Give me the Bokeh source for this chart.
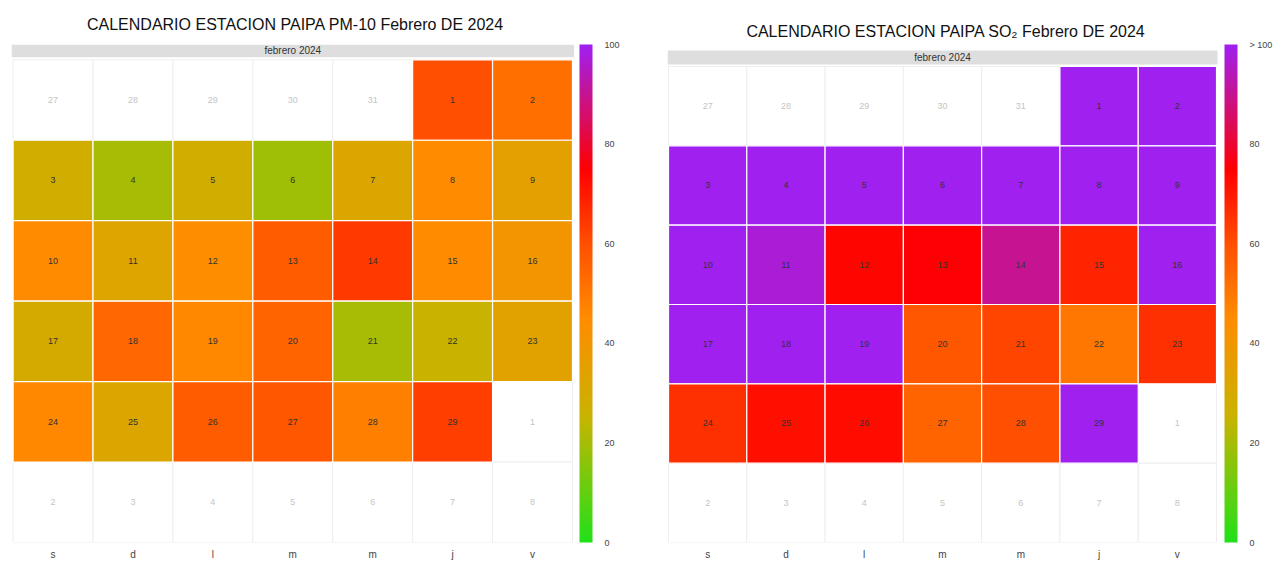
import numpy as np
import pandas as pd
from bokeh.plotting import figure
from bokeh.layouts import row
from bokeh.models import (ColumnDataSource, LinearColorMapper, ColorBar,
                          FixedTicker, Range1d)
from bokeh.embed import file_html
from bokeh.resources import INLINE
from bokeh.core.properties import value

# ---------------- data ----------------
weekday_labels = ["s", "d", "l", "m", "m", "j", "v"]
strip_label = "febrero 2024"
title_pm10 = "CALENDARIO ESTACION PAIPA PM-10 Febrero DE 2024"
title_so2 = "CALENDARIO ESTACION PAIPA SO\u2082 Febrero DE 2024"

# daily values, 1..29 Feb 2024
pm10 = [60, 52, 28, 20, 28, 19, 32, 45, 35,
        45, 33, 44, 57, 64, 45, 40,
        30, 54, 46, 55, 20, 26, 34,
        46, 32, 57, 58, 48, 63]
so2 = [118, 112, 121, 115, 119, 113, 110, 116, 108,
       112, 97, 74, 75, 90, 68, 104,
       117, 111, 114, 58, 62, 50, 66,
       66, 72, 73, 55, 60, 109]

cbar_ticks = [0, 20, 40, 60, 80, 100]
pm10_tick_labels = ["0", "20", "40", "60", "80", "100"]
so2_tick_labels = ["0", "20", "40", "60", "80", "> 100"]

# ---------------- style ----------------
FONT = "Liberation Sans"
stop_pos = [0, 25, 45, 60, 75, 100]
stop_col = ["#22E01A", "#C8B400", "#FF8C00", "#FF4F00", "#FF0000", "#A020F0"]


def build_palette(n=256):
    rgb = np.array([[int(c[i:i + 2], 16) for i in (1, 3, 5)] for c in stop_col], float)
    xs = np.linspace(0, 100, n)
    out = []
    for v in xs:
        r = np.interp(v, stop_pos, rgb[:, 0])
        g = np.interp(v, stop_pos, rgb[:, 1])
        b = np.interp(v, stop_pos, rgb[:, 2])
        out.append("#%02x%02x%02x" % (int(round(r)), int(round(g)), int(round(b))))
    return out


PALETTE = build_palette()


def make_panel(values, title, tick_labels, width, left, right,
               xr, yr, strip_lr, strip_bt, title_standoff):
    start = pd.Timestamp("2024-01-27")
    dates = pd.date_range(start, periods=42)
    xs, ys, days, vals = [], [], [], []
    oxs, oys, odays = [], [], []
    for i, d in enumerate(dates):
        cx = i % 7 + 0.5
        cy = 6 - i // 7 - 0.5
        if d.month == 2:
            xs.append(cx); ys.append(cy); days.append(str(d.day))
            vals.append(values[d.day - 1])
        else:
            oxs.append(cx); oys.append(cy); odays.append(str(d.day))

    mapper = LinearColorMapper(palette=PALETTE, low=0, high=100,
                               high_color=PALETTE[-1], low_color=PALETTE[0])

    p = figure(width=width, height=562,
               x_range=Range1d(*xr), y_range=Range1d(*yr),
               output_backend="svg", toolbar_location=None,
               min_border_top=44, min_border_left=left,
               min_border_right=right, min_border_bottom=20)
    p.title.text = title
    p.title.align = "center"
    p.title.text_font = FONT
    p.title.text_font_size = "16px"
    p.title.text_font_style = "normal"
    p.title.text_color = "#111111"
    p.title.standoff = title_standoff
    p.outline_line_color = None
    p.grid.visible = False
    p.yaxis.visible = False
    p.background_fill_color = "white"

    # strip
    p.quad(left=strip_lr[0], right=strip_lr[1], bottom=strip_bt[0], top=strip_bt[1],
           fill_color="#dedede", line_color=None)
    p.text(x=[3.5], y=[(strip_bt[0] + strip_bt[1]) / 2], text=[strip_label],
           text_align="center", text_baseline="middle", text_font=value(FONT),
           text_font_size="10px", text_color="#333333")

    # out-of-month cells
    osrc = ColumnDataSource(dict(x=oxs, y=oys, d=odays))
    p.rect("x", "y", width=1, height=1, source=osrc, fill_color="white",
           line_color="#eeeeee", line_width=1)
    p.text("x", "y", text="d", source=osrc, text_align="center",
           text_baseline="middle", text_font=value(FONT),
           text_font_size="9px", text_color="#c4c4c4")

    # in-month cells
    src = ColumnDataSource(dict(x=xs, y=ys, d=days, v=vals))
    p.rect("x", "y", width=1, height=1, source=src,
           fill_color={"field": "v", "transform": mapper},
           line_color="white", line_width=1.2)
    p.text("x", "y", text="d", source=src, text_align="center",
           text_baseline="middle", text_font=value(FONT),
           text_font_size="9px", text_color="#333333")

    # weekday axis
    p.xaxis.ticker = FixedTicker(ticks=[k + 0.5 for k in range(7)])
    p.xaxis.major_label_overrides = {k + 0.5: lab for k, lab in enumerate(weekday_labels)}
    p.xaxis.axis_line_color = None
    p.xaxis.major_tick_line_color = None
    p.xaxis.minor_tick_line_color = None
    p.xaxis.major_tick_out = 0
    p.xaxis.major_label_standoff = 6
    p.xaxis.major_label_text_font = FONT
    p.xaxis.major_label_text_font_size = "10px"
    p.xaxis.major_label_text_color = "#444444"

    cb = ColorBar(color_mapper=mapper, ticker=FixedTicker(ticks=cbar_ticks),
                  major_label_overrides={t: l for t, l in zip(cbar_ticks, tick_labels)},
                  width=13, padding=0, margin=0, label_standoff=12,
                  major_tick_line_color=None, minor_tick_line_color=None,
                  bar_line_color=None, border_line_color=None,
                  background_fill_alpha=0,
                  major_label_text_font=FONT, major_label_text_font_size="9px",
                  major_label_text_color="#444444")
    p.add_layout(cb, "right")
    return p


p1 = make_panel(pm10, title_pm10, pm10_tick_labels, 632, 11, 53,
                (-0.02, 7.088), (0, 6.19), (-0.02, 7.02), (6.03, 6.19), 24)
p2 = make_panel(so2, title_so2, so2_tick_labels, 643, 35, 50,
                (-0.013, 7.102), (0, 6.277), (-0.013, 7.013), (6.025, 6.2), 10)

layout = row(p1, p2)
open("out.html", "w").write(file_html(layout, INLINE))
